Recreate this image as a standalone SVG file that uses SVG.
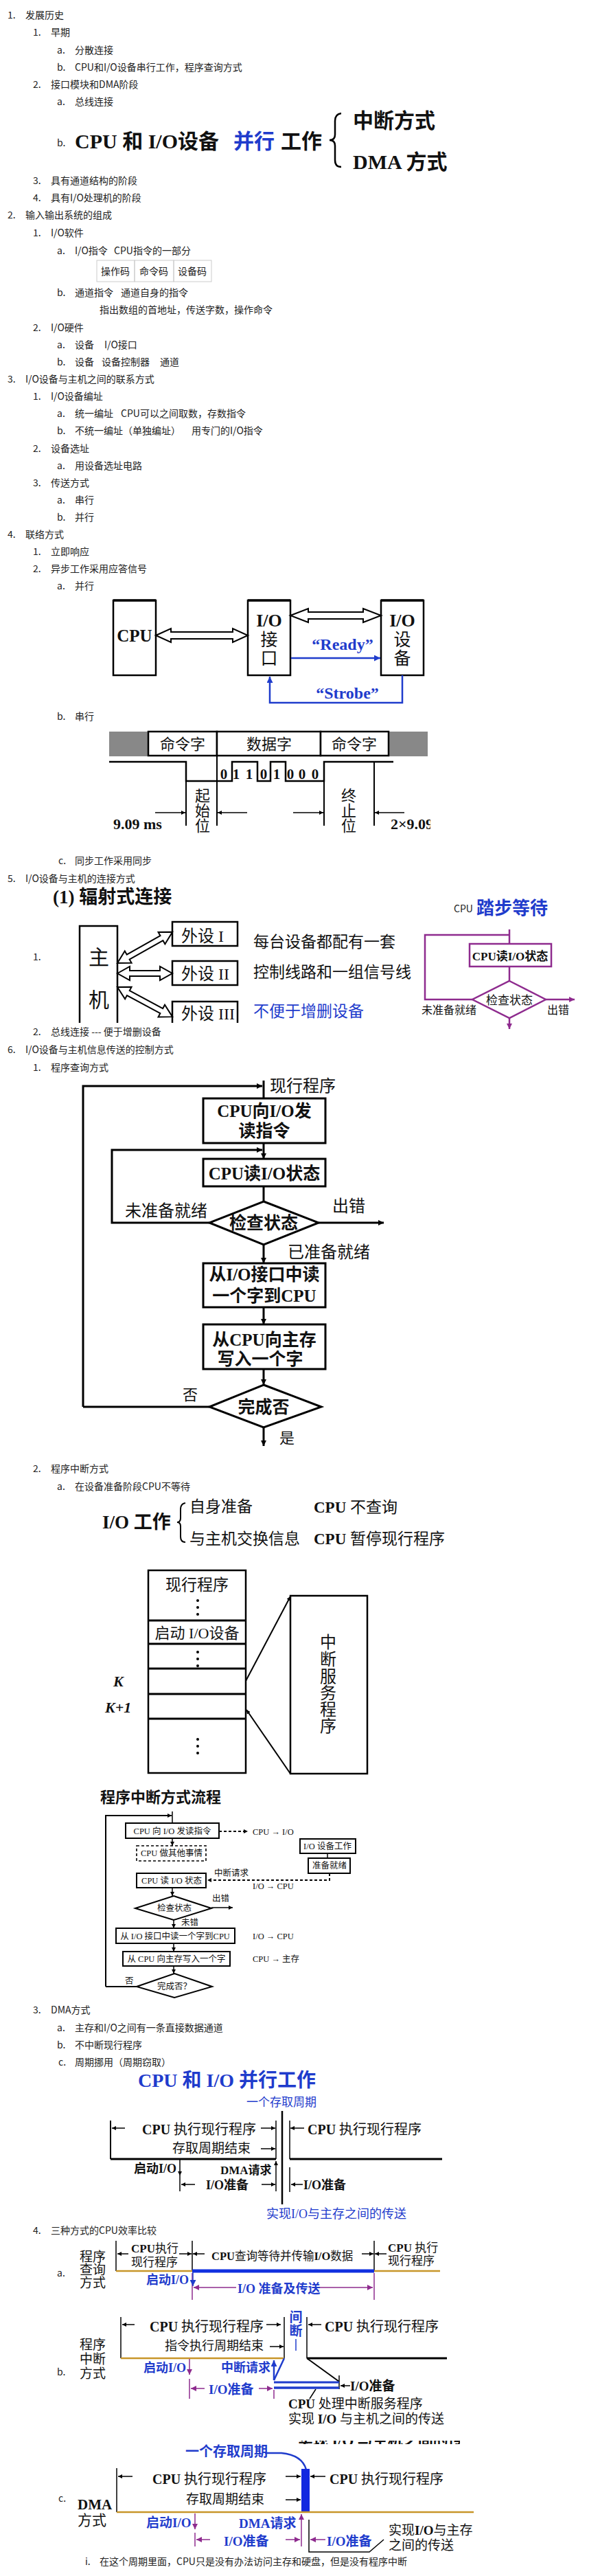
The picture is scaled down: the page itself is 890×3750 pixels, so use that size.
<svg xmlns="http://www.w3.org/2000/svg" width="890" height="3750" viewBox="0 0 890 3750">
<defs>
<style>
.L{font-family:"Noto Sans CJK SC","Noto Sans",sans-serif;font-size:14px;fill:#222}
.S{font-family:"Liberation Serif","Noto Sans CJK SC",serif;font-weight:bold;fill:#111}
.R{font-family:"Liberation Serif","Noto Sans CJK SC",serif;fill:#111}
.B{fill:#1f3ccc}
.m{text-anchor:middle}
.ln{fill:none;stroke:#000}
.bl{fill:none;stroke:#1f3ccc}
.pu{fill:none;stroke:#8e2b8e}
.go{fill:none;stroke:#c8962a}
.ho{fill:#fff;stroke:#000;stroke-width:2}
</style>
<marker id="ak" viewBox="0 0 10 10" refX="10" refY="5" markerWidth="8" markerHeight="8" markerUnits="userSpaceOnUse" orient="auto"><path d="M0,0 L10,5 L0,10 z" fill="#000"/></marker>
<marker id="as" viewBox="0 0 10 10" refX="10" refY="5" markerWidth="6" markerHeight="6" markerUnits="userSpaceOnUse" orient="auto"><path d="M0,0 L10,5 L0,10 z" fill="#000"/></marker>
<marker id="ab" viewBox="0 0 10 10" refX="10" refY="5" markerWidth="9" markerHeight="9" markerUnits="userSpaceOnUse" orient="auto"><path d="M0,0 L10,5 L0,10 z" fill="#1f3ccc"/></marker>
<marker id="ap" viewBox="0 0 10 10" refX="10" refY="5" markerWidth="8" markerHeight="8" markerUnits="userSpaceOnUse" orient="auto"><path d="M0,0 L10,5 L0,10 z" fill="#8e2b8e"/></marker>
<clipPath id="c2"><rect x="560" y="1185" width="67" height="30"/></clipPath>
<clipPath id="c3"><rect x="430" y="3553" width="240" height="5"/></clipPath>
</defs>
<rect width="890" height="3750" fill="#fff"/>

<g id="list">
<text class="L" x="11" y="27">1.</text><text class="L" x="37" y="27">发展历史</text>
<text class="L" x="48" y="52">1.</text><text class="L" x="74" y="52">早期</text>
<text class="L" x="83" y="78">a.</text><text class="L" x="109" y="78">分散连接</text>
<text class="L" x="83" y="103">b.</text><text class="L" x="109" y="103">CPU和I/O设备串行工作，程序查询方式</text>
<text class="L" x="48" y="128">2.</text><text class="L" x="74" y="128">接口模块和DMA阶段</text>
<text class="L" x="83" y="153">a.</text><text class="L" x="109" y="153">总线连接</text>
<text class="L" x="83" y="213">b.</text>
<text class="L" x="48" y="268">3.</text><text class="L" x="74" y="268">具有通道结构的阶段</text>
<text class="L" x="48" y="293">4.</text><text class="L" x="74" y="293">具有I/O处理机的阶段</text>
<text class="L" x="11" y="318">2.</text><text class="L" x="37" y="318">输入输出系统的组成</text>
<text class="L" x="48" y="344">1.</text><text class="L" x="74" y="344">I/O软件</text>
<text class="L" x="83" y="370">a.</text><text class="L" y="370"><tspan x="109">I/O指令</tspan><tspan x="166">CPU指令的一部分</tspan></text>
<text class="L" x="83" y="431">b.</text><text class="L" y="431"><tspan x="109">通道指令</tspan><tspan x="176">通道自身的指令</tspan></text>
<text class="L" x="145" y="456">指出数组的首地址，传送字数，操作命令</text>
<text class="L" x="48" y="482">2.</text><text class="L" x="74" y="482">I/O硬件</text>
<text class="L" x="83" y="507">a.</text><text class="L" y="507"><tspan x="109">设备</tspan><tspan x="152">I/O接口</tspan></text>
<text class="L" x="83" y="532">b.</text><text class="L" y="532"><tspan x="109">设备</tspan><tspan x="148">设备控制器</tspan><tspan x="233">通道</tspan></text>
<text class="L" x="11" y="557">3.</text><text class="L" x="37" y="557">I/O设备与主机之间的联系方式</text>
<text class="L" x="48" y="582">1.</text><text class="L" x="74" y="582">I/O设备编址</text>
<text class="L" x="83" y="607">a.</text><text class="L" y="607"><tspan x="109">统一编址</tspan><tspan x="176">CPU可以之间取数，存数指令</tspan></text>
<text class="L" x="83" y="632">b.</text><text class="L" y="632"><tspan x="109">不统一编址（单独编址）</tspan><tspan x="279">用专门的I/O指令</tspan></text>
<text class="L" x="48" y="658">2.</text><text class="L" x="74" y="658">设备选址</text>
<text class="L" x="83" y="683">a.</text><text class="L" x="109" y="683">用设备选址电路</text>
<text class="L" x="48" y="708">3.</text><text class="L" x="74" y="708">传送方式</text>
<text class="L" x="83" y="733">a.</text><text class="L" x="109" y="733">串行</text>
<text class="L" x="83" y="758">b.</text><text class="L" x="109" y="758">并行</text>
<text class="L" x="11" y="783">4.</text><text class="L" x="37" y="783">联络方式</text>
<text class="L" x="48" y="808">1.</text><text class="L" x="74" y="808">立即响应</text>
<text class="L" x="48" y="833">2.</text><text class="L" x="74" y="833">异步工作采用应答信号</text>
<text class="L" x="83" y="858">a.</text><text class="L" x="109" y="858">并行</text>
<text class="L" x="83" y="1048">b.</text><text class="L" x="109" y="1048">串行</text>
<text class="L" x="85" y="1258">c.</text><text class="L" x="109" y="1258">同步工作采用同步</text>
<text class="L" x="11" y="1284">5.</text><text class="L" x="37" y="1284">I/O设备与主机的连接方式</text>
<text class="L" x="48" y="1398">1.</text>
<text class="L" x="48" y="1507">2.</text><text class="L" x="74" y="1507">总线连接 --- 便于增删设备</text>
<text class="L" x="11" y="1533">6.</text><text class="L" x="37" y="1533">I/O设备与主机信息传送的控制方式</text>
<text class="L" x="48" y="1559">1.</text><text class="L" x="74" y="1559">程序查询方式</text>
<text class="L" x="48" y="2143">2.</text><text class="L" x="74" y="2143">程序中断方式</text>
<text class="L" x="83" y="2169">a.</text><text class="L" x="109" y="2169">在设备准备阶段CPU不等待</text>
<text class="L" x="48" y="2931">3.</text><text class="L" x="74" y="2931">DMA方式</text>
<text class="L" x="83" y="2957">a.</text><text class="L" x="109" y="2957">主存和I/O之间有一条直接数据通道</text>
<text class="L" x="83" y="2982">b.</text><text class="L" x="109" y="2982">不中断现行程序</text>
<text class="L" x="85" y="3007">c.</text><text class="L" x="109" y="3007">周期挪用（周期窃取）</text>
<text class="L" x="48" y="3252">4.</text><text class="L" x="74" y="3252">三种方式的CPU效率比较</text>
<text class="L" x="83" y="3314">a.</text>
<text class="L" x="83" y="3458">b.</text>
<text class="L" x="85" y="3642">c.</text>
<text class="L" x="124" y="3734">i.</text><text class="L" x="145" y="3734">在这个周期里面，CPU只是没有办法访问主存和硬盘，但是没有程序中断</text>
</g>

<g id="diag-parallel-work">
<text class="S" x="109" y="216" font-size="30">CPU 和 I/O设备</text>
<text class="S B" x="340" y="216" font-size="30">并行</text>
<text class="S" x="409" y="216" font-size="30" fill="#333">工作</text>
<path class="ln" stroke-width="2.5" d="M497,165 Q488,166 488,176 L488,196 Q488,204 480,204 Q488,204 488,212 L488,233 Q488,243 497,243"/>
<text class="S" x="514" y="186" font-size="30">中断方式</text>
<text class="S" x="514" y="246" font-size="30">DMA 方式</text>
</g>

<g id="table-io-instr">
<rect x="141" y="379" width="55" height="31" fill="none" stroke="#ccc"/>
<rect x="196" y="379" width="57" height="31" fill="none" stroke="#ccc"/>
<rect x="253" y="379" width="55" height="31" fill="none" stroke="#ccc"/>
<text class="L m" x="168" y="400">操作码</text>
<text class="L m" x="224" y="400">命令码</text>
<text class="L m" x="280" y="400">设备码</text>
</g>

<g id="diag-handshake">
<g id="hs-cpu"><rect x="165" y="874" width="62" height="109" class="ln" stroke-width="2.5"/><line x1="165" y1="874" x2="227" y2="874" stroke="#000" stroke-width="3.5"/><text class="S m" x="196" y="934" font-size="25">CPU</text></g>
<g id="hs-if"><rect x="361" y="874" width="62" height="109" class="ln" stroke-width="2.5"/><line x1="361" y1="874" x2="423" y2="874" stroke="#000" stroke-width="3.5"/><text class="S m" x="392" y="912" font-size="26">I/O</text><text class="R m" x="392" y="940" font-size="25">接</text><text class="R m" x="392" y="967" font-size="25">口</text></g>
<g id="hs-dev"><rect x="555" y="874" width="62" height="109" class="ln" stroke-width="2.5"/><line x1="555" y1="874" x2="617" y2="874" stroke="#000" stroke-width="3.5"/><text class="S m" x="586" y="912" font-size="26">I/O</text><text class="R m" x="586" y="940" font-size="25">设</text><text class="R m" x="586" y="967" font-size="25">备</text></g>
<g id="hs-connectors">
<polygon class="ho" transform="translate(227,925)" points="0,0 22,-10 22,-5 112,-5 112,-10 134,0 112,10 112,5 22,5 22,10"/>
<polygon class="ho" transform="translate(423,896)" points="0,0 26,-10 26,-5 106,-5 106,-10 132,0 106,10 106,5 26,5 26,10"/>
<line class="bl" stroke-width="2.5" x1="424" y1="958" x2="554" y2="958" marker-end="url(#ab)"/>
<polyline class="bl" stroke-width="2.5" points="586,983 586,1023 393,1023 393,985" marker-end="url(#ab)"/>
<text class="S B m" x="499" y="946" font-size="24">“Ready”</text>
<text class="S B m" x="506" y="1017" font-size="24">“Strobe”</text>
</g>
</g>

<g id="diag-serial">
<rect x="159" y="1065" width="464" height="36" fill="#888"/>
<g id="sr-cmd1"><rect x="216" y="1065" width="100" height="35" fill="#fff" stroke="#000" stroke-width="2.5"/><text class="R m" x="266" y="1091" font-size="22">命令字</text></g>
<g id="sr-data"><rect x="316" y="1065" width="151" height="35" fill="#fff" stroke="#000" stroke-width="2.5"/><text class="R m" x="392" y="1091" font-size="22">数据字</text></g>
<g id="sr-cmd2"><rect x="467" y="1065" width="99" height="35" fill="#fff" stroke="#000" stroke-width="2.5"/><text class="R m" x="516" y="1091" font-size="22">命令字</text></g>
<g id="sr-wave">
<polyline class="ln" stroke-width="2.5" points="159,1109 271,1109 271,1137 338,1137 338,1109 375,1109 375,1137 394,1137 394,1109 416,1109 416,1137 472,1137 472,1109 573,1109"/>
<line class="ln" stroke-width="2" x1="271" y1="1109" x2="271" y2="1202"/>
<line class="ln" stroke-width="2" x1="316" y1="1100" x2="316" y2="1202"/>
<line class="ln" stroke-width="2" x1="472" y1="1109" x2="472" y2="1202"/>
<line class="ln" stroke-width="2" x1="545" y1="1109" x2="545" y2="1202"/>
<g class="S m" font-size="21"><text x="326" y="1134">0</text><text x="344" y="1134">1</text><text x="363" y="1134">1</text><text x="384" y="1134">0</text><text x="403" y="1134">1</text><text x="423" y="1134">0</text><text x="440" y="1134">0</text><text x="459" y="1134">0</text></g>
<g class="R m" font-size="22"><text x="295" y="1166">起</text><text x="295" y="1188">始</text><text x="295" y="1210">位</text><text x="508" y="1166">终</text><text x="508" y="1188">止</text><text x="508" y="1210">位</text></g>
<line class="ln" stroke-width="1.5" x1="226" y1="1183" x2="270" y2="1183" marker-end="url(#as)"/>
<line class="ln" stroke-width="1.5" x1="360" y1="1183" x2="317" y2="1183" marker-end="url(#as)"/>
<line class="ln" stroke-width="1.5" x1="427" y1="1183" x2="471" y2="1183" marker-end="url(#as)"/>
<line class="ln" stroke-width="1.5" x1="589" y1="1183" x2="546" y2="1183" marker-end="url(#as)"/>
<text class="S" x="165" y="1207" font-size="22">9.09 ms</text>
<text class="S" x="569" y="1207" font-size="22" clip-path="url(#c2)">2×9.09 ms</text>
</g>
</g>

<g id="diag-radial">
<text class="S" x="77" y="1315" font-size="27">(1) 辐射式连接</text>
<g id="rd-host"><path class="ln" stroke-width="2.5" d="M116,1489 L116,1348 L171,1348 L171,1489"/><text class="R m" x="144" y="1404" font-size="30">主</text><text class="R m" x="144" y="1466" font-size="30">机</text></g>
<g id="rd-dev1"><rect x="251" y="1342" width="95" height="35" class="ln" stroke-width="2.5"/><text class="R" x="264" y="1371" font-size="24">外设 <tspan font-family="Liberation Serif">I</tspan></text></g>
<g id="rd-dev2"><rect x="251" y="1399" width="95" height="35" class="ln" stroke-width="2.5"/><text class="R" x="264" y="1426" font-size="24">外设 <tspan font-family="Liberation Serif">II</tspan></text></g>
<g id="rd-dev3"><path class="ln" stroke-width="2.5" d="M251,1489 L251,1458 L346,1458 L346,1489"/><text class="R" x="264" y="1484" font-size="24">外设 <tspan font-family="Liberation Serif">III</tspan></text></g>
<g id="rd-connectors">
<polygon class="ho" transform="translate(171,1402) rotate(-29.4)" points="0,0 18,-10 18,-4 74,-4 74,-10 92,0 74,10 74,4 18,4 18,10"/>
<polygon class="ho" transform="translate(171,1417)" points="0,0 18,-10 18,-4 62,-4 62,-10 80,0 62,10 62,4 18,4 18,10"/>
<polygon class="ho" transform="translate(171,1437) rotate(28.3)" points="0,0 18,-10 18,-4 73,-4 73,-10 91,0 73,10 73,4 18,4 18,10"/>
</g>
<text class="R" x="369" y="1379" font-size="23">每台设备都配有一套</text>
<text class="R" x="369" y="1423" font-size="23">控制线路和一组信号线</text>
<text class="R B" x="369" y="1480" font-size="23">不便于增删设备</text>
</g>

<g id="diag-polling">
<text class="L" x="661" y="1328" font-size="15">CPU</text>
<text class="S B" x="694" y="1331" font-size="26">踏步等待</text>
<g id="pl-box"><rect x="684" y="1374" width="119" height="33" class="pu" stroke-width="2.5"/><text class="S m" x="743" y="1398" font-size="17">CPU读I/O状态</text></g>
<g id="pl-check"><polygon class="pu" stroke-width="2.5" points="742,1428 795,1455 742,1482 688,1455"/><text class="R m" x="742" y="1462" font-size="17">检查状态</text></g>
<g id="pl-connectors">
<line class="pu" stroke-width="2.5" x1="742" y1="1353" x2="742" y2="1374"/>
<polyline class="pu" stroke-width="2.5" points="688,1455 619,1455 619,1361 741,1361"/>
<line class="pu" stroke-width="2.5" x1="742" y1="1407" x2="742" y2="1428"/>
<line class="pu" stroke-width="2.5" x1="795" y1="1455" x2="837" y2="1455" marker-end="url(#ap)"/>
<line class="pu" stroke-width="2.5" x1="742" y1="1482" x2="742" y2="1498" marker-end="url(#ap)"/>
</g>
<text class="R" x="614" y="1476" font-size="16">未准备就绪</text>
<text class="R" x="797" y="1476" font-size="16">出错</text>
</g>

<g id="flow-query">
<text class="R" x="393" y="1589" font-size="24">现行程序</text>
<g id="fq-n1"><rect x="296" y="1599" width="178" height="65" class="ln" stroke-width="3"/><text class="S m" x="385" y="1626" font-size="25">CPU向I/O发</text><text class="S m" x="385" y="1655" font-size="25">读指令</text></g>
<g id="fq-n2"><rect x="296" y="1687" width="178" height="40" class="ln" stroke-width="3"/><text class="S m" x="385" y="1717" font-size="25">CPU读I/O状态</text></g>
<g id="fq-d1"><polygon class="ln" stroke-width="3" points="384,1749 464,1780 384,1812 305,1780"/><text class="S m" x="384" y="1789" font-size="25">检查状态</text></g>
<g id="fq-n3"><rect x="296" y="1839" width="178" height="64" class="ln" stroke-width="3"/><text class="S m" x="385" y="1864" font-size="25">从I/O接口中读</text><text class="S m" x="385" y="1895" font-size="25">一个字到CPU</text></g>
<g id="fq-n4"><rect x="296" y="1928" width="178" height="65" class="ln" stroke-width="3"/><text class="S m" x="385" y="1959" font-size="25">从CPU向主存</text><text class="S m" x="379" y="1987" font-size="25">写入一个字</text></g>
<g id="fq-d2"><polygon class="ln" stroke-width="3" points="384,2016 468,2048 384,2078 305,2048"/><text class="S m" x="384" y="2057" font-size="25">完成否</text></g>
<g id="fq-connectors">
<line class="ln" stroke-width="3" x1="384" y1="1573" x2="384" y2="1599"/>
<polyline class="ln" stroke-width="3" points="121,2048 121,1581 382,1581" marker-end="url(#ak)"/>
<line class="ln" stroke-width="3" x1="384" y1="1664" x2="384" y2="1687" marker-end="url(#ak)"/>
<polyline class="ln" stroke-width="3" points="305,1780 163,1780 163,1674 382,1674" marker-end="url(#ak)"/>
<line class="ln" stroke-width="3" x1="384" y1="1727" x2="384" y2="1749"/>
<line class="ln" stroke-width="3" x1="464" y1="1780" x2="559" y2="1780" marker-end="url(#ak)"/>
<line class="ln" stroke-width="3" x1="384" y1="1812" x2="384" y2="1839" marker-end="url(#ak)"/>
<line class="ln" stroke-width="3" x1="384" y1="1903" x2="384" y2="1928" marker-end="url(#ak)"/>
<line class="ln" stroke-width="3" x1="384" y1="1993" x2="384" y2="2016" marker-end="url(#ak)"/>
<line class="ln" stroke-width="3" x1="305" y1="2048" x2="121" y2="2048"/>
<line class="ln" stroke-width="3" x1="384" y1="2078" x2="384" y2="2105" marker-end="url(#ak)"/>
</g>
<text class="R" x="182" y="1771" font-size="24">未准备就绪</text>
<text class="R" x="484" y="1764" font-size="24">出错</text>
<text class="R" x="419" y="1831" font-size="24">已准备就绪</text>
<text class="R" x="266" y="2038" font-size="22">否</text>
<text class="R" x="407" y="2101" font-size="22">是</text>
</g>

<g id="diag-io-work">
<text class="S" x="149" y="2225" font-size="27">I/O 工作</text>
<path class="ln" stroke-width="2" d="M270,2188 Q263,2189 263,2197 L263,2210 Q263,2216 258,2216 Q263,2216 263,2222 L263,2237 Q263,2245 270,2245"/>
<text class="R" x="276" y="2201" font-size="23">自身准备</text>
<text class="R" x="457" y="2202" font-size="23"><tspan font-weight="bold">CPU</tspan> 不查询</text>
<text class="R" x="276" y="2248" font-size="23">与主机交换信息</text>
<text class="R" x="457" y="2248" font-size="23"><tspan font-weight="bold">CPU</tspan> 暂停现行程序</text>
</g>

<g id="diag-interrupt-stack">
<g id="st-main">
<rect x="216" y="2286" width="142" height="295" class="ln" stroke-width="2.5"/>
<g stroke="#000" stroke-width="3"><line x1="216" y1="2359" x2="358" y2="2359"/><line x1="216" y1="2393" x2="358" y2="2393"/><line x1="216" y1="2429" x2="358" y2="2429"/><line x1="216" y1="2466" x2="358" y2="2466"/><line x1="216" y1="2502" x2="358" y2="2502"/></g>
<text class="R m" x="287" y="2315" font-size="23">现行程序</text>
<text class="R m" x="287" y="2385" font-size="22">启动 I/O设备</text>
<g fill="#000"><circle cx="288" cy="2330" r="2"/><circle cx="288" cy="2340" r="2"/><circle cx="288" cy="2350" r="2"/><circle cx="288" cy="2405" r="2"/><circle cx="288" cy="2415" r="2"/><circle cx="288" cy="2425" r="2"/><circle cx="288" cy="2532" r="2"/><circle cx="288" cy="2542" r="2"/><circle cx="288" cy="2552" r="2"/></g>
</g>
<text class="S" x="165" y="2455" font-size="22" font-style="italic">K</text>
<text class="S" x="153" y="2493" font-size="22" font-style="italic">K+1</text>
<g id="st-isr"><rect x="423" y="2323" width="112" height="259" class="ln" stroke-width="2.5"/>
<g class="R m" font-size="24"><text x="478" y="2399">中</text><text x="478" y="2424">断</text><text x="478" y="2449">服</text><text x="478" y="2473">务</text><text x="478" y="2497">程</text><text x="478" y="2521">序</text></g></g>
<g id="st-connectors">
<line class="ln" stroke-width="2" x1="358" y1="2447" x2="423" y2="2324" marker-end="url(#as)"/>
<line class="ln" stroke-width="2" x1="423" y1="2582" x2="359" y2="2489" marker-end="url(#as)"/>
</g>
</g>

<g id="flow-interrupt">
<text class="S" x="146" y="2624" font-size="22">程序中断方式流程</text>
<g class="R" font-size="12.5">
<g id="fi-n1"><rect x="183" y="2654" width="136" height="22" class="ln" stroke-width="2"/><text class="m" x="251" y="2670">CPU 向 I/O 发读指令</text></g>
<g id="fi-n2"><rect x="199" y="2687" width="101" height="22" class="ln" stroke-width="1.6" stroke-dasharray="4,3"/><text class="m" x="250" y="2702">CPU 做其他事情</text></g>
<g id="fi-n3"><rect x="437" y="2677" width="81" height="21" class="ln" stroke-width="2"/><text class="m" x="477" y="2692">I/O 设备工作</text></g>
<g id="fi-n4"><rect x="449" y="2705" width="61" height="22" class="ln" stroke-width="2"/><text class="m" x="480" y="2720">准备就绪</text></g>
<g id="fi-n5"><rect x="199" y="2727" width="101" height="21" class="ln" stroke-width="2"/><text class="m" x="250" y="2742">CPU 读 I/O 状态</text></g>
<g id="fi-d1"><polygon class="ln" stroke-width="2" points="253,2760 308,2778 253,2795 197,2778"/><text class="m" x="254" y="2782">检查状态</text></g>
<g id="fi-n6"><rect x="169" y="2807" width="173" height="22" class="ln" stroke-width="2"/><text class="m" x="255" y="2823">从 I/O 接口中读一个字到CPU</text></g>
<g id="fi-n7"><rect x="179" y="2841" width="156" height="21" class="ln" stroke-width="2"/><text class="m" x="257" y="2856">从 CPU 向主存写入一个字</text></g>
<g id="fi-d2"><polygon class="ln" stroke-width="2" points="254,2873 309,2892 254,2908 199,2892"/><text class="m" x="254" y="2896">完成否？</text></g>
<text x="368" y="2671">CPU → I/O</text>
<text x="312" y="2731">中断请求</text>
<text x="368" y="2750">I/O → CPU</text>
<text x="309" y="2768">出错</text>
<text x="264" y="2803">未错</text>
<text x="368" y="2823">I/O → CPU</text>
<text x="368" y="2856">CPU → 主存</text>
<text x="182" y="2888">否</text>
</g>
<g id="fi-connectors">
<line class="ln" stroke-width="1.5" x1="251" y1="2637" x2="251" y2="2654"/>
<polyline class="ln" stroke-width="2" points="154,2892 154,2643 250,2643" marker-end="url(#as)"/>
<line class="ln" stroke-width="2" stroke-dasharray="4,3" x1="319" y1="2666" x2="361" y2="2666" marker-end="url(#as)"/>
<line class="ln" stroke-width="1.5" x1="251" y1="2676" x2="251" y2="2687" marker-end="url(#as)"/>
<line class="ln" stroke-width="1.5" x1="477" y1="2698" x2="477" y2="2705"/>
<polyline class="ln" stroke-width="2" stroke-dasharray="4,3" points="480,2727 480,2737 302,2737" marker-end="url(#as)"/>
<line class="ln" stroke-width="1.5" x1="251" y1="2748" x2="251" y2="2760" marker-end="url(#as)"/>
<line class="ln" stroke-width="1.5" x1="308" y1="2777" x2="339" y2="2777" marker-end="url(#as)"/>
<line class="ln" stroke-width="1.5" x1="253" y1="2795" x2="253" y2="2807" marker-end="url(#as)"/>
<line class="ln" stroke-width="1.5" x1="253" y1="2829" x2="253" y2="2841" marker-end="url(#as)"/>
<line class="ln" stroke-width="1.5" x1="253" y1="2862" x2="253" y2="2873" marker-end="url(#as)"/>
<line class="ln" stroke-width="2" x1="199" y1="2892" x2="154" y2="2892"/>
</g>
</g>

<g id="diag-dma-cycle">
<text class="S B" x="201" y="3038" font-size="28">CPU 和 I/O 并行工作</text>
<text class="R B" x="359" y="3066" font-size="17">一个存取周期</text>
<g class="ln">
<line stroke-width="2.5" x1="411" y1="3073" x2="411" y2="3209"/>
<line stroke-width="2" x1="161" y1="3087" x2="161" y2="3143"/>
<line stroke-width="1.5" x1="402" y1="3087" x2="402" y2="3143"/>
<line stroke-width="1.5" x1="422" y1="3087" x2="422" y2="3143"/>
<line stroke-width="3" x1="161" y1="3143" x2="402" y2="3143"/>
<line stroke-width="3" x1="422" y1="3143" x2="644" y2="3143"/>
<line stroke-width="1.5" x1="182" y1="3098" x2="163" y2="3098" marker-end="url(#as)"/>
<line stroke-width="1.5" x1="380" y1="3098" x2="401" y2="3098" marker-end="url(#as)"/>
<line stroke-width="1.5" x1="443" y1="3098" x2="423" y2="3098" marker-end="url(#as)"/>
<line stroke-width="1.5" x1="380" y1="3128" x2="401" y2="3128" marker-end="url(#as)"/>
<line stroke-width="1.5" x1="262" y1="3143" x2="262" y2="3167" marker-end="url(#as)"/>
<line stroke-width="1.5" x1="262" y1="3167" x2="262" y2="3190"/>
<line stroke-width="1.5" x1="402" y1="3190" x2="402" y2="3146" marker-end="url(#as)"/>
<line stroke-width="1.5" x1="422" y1="3155" x2="422" y2="3191"/>
<line stroke-width="1.5" x1="284" y1="3180" x2="264" y2="3180" marker-end="url(#as)"/>
<line stroke-width="1.5" x1="381" y1="3180" x2="401" y2="3180" marker-end="url(#as)"/>
<line stroke-width="1.5" x1="441" y1="3180" x2="424" y2="3180" marker-end="url(#as)"/>
</g>
<g class="R" font-size="20">
<text x="207" y="3107"><tspan font-weight="bold">CPU</tspan> 执行现行程序</text>
<text x="448" y="3107"><tspan font-weight="bold">CPU</tspan> 执行现行程序</text>
<text x="251" y="3134" font-size="19">存取周期结束</text>
<text x="195" y="3163" font-size="18" font-weight="bold">启动I/O</text>
<text x="321" y="3165" font-size="17" font-weight="bold">DMA请求</text>
<text x="300" y="3187" font-size="18" font-weight="bold">I/O准备</text>
<text x="442" y="3187" font-size="18" font-weight="bold">I/O准备</text>
</g>
<text class="R B" x="388" y="3229" font-size="18">实现I/O与主存之间的传送</text>
</g>

<g id="cmp-a">
<g class="R" font-size="19"><text x="116" y="3292">程序</text><text x="116" y="3311">查询</text><text x="116" y="3330">方式</text></g>
<g class="ln" stroke-width="1.5">
<line x1="169" y1="3262" x2="169" y2="3306"/><line x1="280" y1="3262" x2="280" y2="3306"/><line x1="545" y1="3262" x2="545" y2="3306"/>
<line x1="187" y1="3281" x2="171" y2="3281" marker-end="url(#as)"/>
<line x1="261" y1="3281" x2="279" y2="3281" marker-end="url(#as)"/>
<line x1="298" y1="3281" x2="281" y2="3281" marker-end="url(#as)"/>
<line x1="527" y1="3281" x2="544" y2="3281" marker-end="url(#as)"/>
<line x1="563" y1="3281" x2="546" y2="3281" marker-end="url(#as)"/>
</g>
<g class="R" font-size="17"><text x="191" y="3279"><tspan font-weight="bold">CPU</tspan>执行</text><text x="191" y="3299">现行程序</text>
<text x="308" y="3290" font-size="16.5"><tspan font-weight="bold">CPU</tspan>查询等待并传输<tspan font-weight="bold">I/O</tspan>数据</text>
<text x="565" y="3278"><tspan font-weight="bold">CPU</tspan> 执行</text><text x="565" y="3297">现行程序</text></g>
<line class="go" stroke-width="2.5" x1="169" y1="3306" x2="280" y2="3306"/>
<line class="go" stroke-width="2.5" x1="545" y1="3306" x2="641" y2="3306"/>
<line stroke="#1030e0" stroke-width="5" x1="280" y1="3306" x2="545" y2="3306"/>
<line class="pu" stroke-width="1.5" x1="280" y1="3309" x2="280" y2="3348"/>
<line class="pu" stroke-width="1.5" x1="545" y1="3309" x2="545" y2="3348"/>
<line class="bl" stroke-width="1.5" x1="281" y1="3308" x2="281" y2="3328" marker-end="url(#ab)"/>
<line class="pu" stroke-width="1.5" x1="344" y1="3330" x2="282" y2="3330" marker-end="url(#ap)"/>
<line class="pu" stroke-width="1.5" x1="456" y1="3330" x2="543" y2="3330" marker-end="url(#ap)"/>
<text class="S B" x="213" y="3325" font-size="18">启动I/O</text>
<text class="S B" x="346" y="3338" font-size="18">I/O 准备及传送</text>
</g>

<g id="cmp-b">
<g class="R" font-size="19"><text x="116" y="3420">程序</text><text x="116" y="3441">中断</text><text x="116" y="3462">方式</text></g>
<g class="ln" stroke-width="1.5">
<line x1="176" y1="3373" x2="176" y2="3433"/><line x1="414" y1="3373" x2="414" y2="3433"/><line x1="447" y1="3373" x2="447" y2="3433"/>
<line x1="196" y1="3384" x2="178" y2="3384" marker-end="url(#as)"/>
<line x1="388" y1="3384" x2="409" y2="3384" marker-end="url(#as)"/>
<line x1="468" y1="3384" x2="449" y2="3384" marker-end="url(#as)"/>
<line x1="393" y1="3416" x2="413" y2="3416" marker-end="url(#as)"/>
<line x1="447" y1="3433" x2="494" y2="3467" stroke-width="2"/>
<line x1="494" y1="3458" x2="494" y2="3478"/>
<line x1="510" y1="3473" x2="496" y2="3473" marker-end="url(#as)"/>
<line x1="460" y1="3478" x2="451" y2="3492"/>
</g>
<g class="S B m" font-size="19"><text x="431" y="3380">间</text><text x="431" y="3400">断</text></g>
<line class="bl" stroke-width="1.5" x1="431" y1="3405" x2="431" y2="3422"/>
<g class="R" font-size="20">
<text x="218" y="3394"><tspan font-weight="bold">CPU</tspan> 执行现行程序</text>
<text x="473" y="3394"><tspan font-weight="bold">CPU</tspan> 执行现行程序</text>
<text x="240" y="3421" font-size="18">指令执行周期结束</text>
<text x="510" y="3480" font-size="19" font-weight="bold">I/O准备</text>
<text x="420" y="3506" font-size="19"><tspan font-weight="bold">CPU</tspan> 处理中断服务程序</text>
<text x="420" y="3528" font-size="19">实现 <tspan font-weight="bold">I/O</tspan> 与主机之间的传送</text>
</g>
<line class="go" stroke-width="2.5" x1="176" y1="3433" x2="414" y2="3433"/>
<line class="ln" stroke-width="3" x1="447" y1="3433" x2="651" y2="3433"/>
<line class="bl" stroke-width="2.5" x1="399" y1="3465" x2="399" y2="3436" marker-end="url(#ab)"/>
<line class="bl" stroke-width="2.5" x1="414" y1="3433" x2="399" y2="3465"/>
<line class="bl" stroke-width="3" x1="399" y1="3468" x2="494" y2="3468"/>
<line class="bl" stroke-width="3.5" x1="399" y1="3476" x2="494" y2="3476"/>
<line class="pu" stroke-width="1.5" x1="276" y1="3434" x2="276" y2="3457" marker-end="url(#ap)"/>
<line class="pu" stroke-width="1.5" x1="276" y1="3463" x2="276" y2="3492"/>
<line class="pu" stroke-width="1.5" x1="399" y1="3479" x2="399" y2="3492"/>
<line class="pu" stroke-width="1.5" x1="298" y1="3477" x2="278" y2="3477" marker-end="url(#ap)"/>
<line class="pu" stroke-width="1.5" x1="377" y1="3477" x2="397" y2="3477" marker-end="url(#ap)"/>
<text class="S B" x="209" y="3453" font-size="18">启动I/O</text>
<text class="S B" x="322" y="3453" font-size="18">中断请求</text>
<text class="S B" x="304" y="3485" font-size="19">I/O准备</text>
</g>

<g id="cmp-c">
<text class="S" x="434" y="3560" font-size="22" clip-path="url(#c3)">实现 I/O 与主机之间的传送</text>
<text class="S B" x="270" y="3576" font-size="20">一个存取周期</text>
<path class="bl" stroke-width="2.5" d="M386,3571 L410,3571 Q440,3574 446,3595"/>
<rect x="439" y="3594" width="12" height="64" fill="#1228e0"/>
<g class="ln" stroke-width="1.5">
<line x1="170" y1="3593" x2="170" y2="3657"/>
<line x1="193" y1="3605" x2="172" y2="3605" marker-end="url(#as)"/>
<line x1="416" y1="3605" x2="438" y2="3605" marker-end="url(#as)"/>
<line x1="474" y1="3605" x2="452" y2="3605" marker-end="url(#as)"/>
<line x1="416" y1="3639" x2="438" y2="3639" marker-end="url(#as)"/>
<polyline stroke-width="1.5" points="450,3668 450,3715 538,3715 559,3697"/>
</g>
<g class="R" font-size="20">
<text x="222" y="3616"><tspan font-weight="bold">CPU</tspan> 执行现行程序</text>
<text x="480" y="3616"><tspan font-weight="bold">CPU</tspan> 执行现行程序</text>
<text x="271" y="3645" font-size="19">存取周期结束</text>
<text x="566" y="3690" font-size="19">实现<tspan font-weight="bold">I/O</tspan>与主存</text>
<text x="566" y="3712" font-size="19">之间的传送</text>
</g>
<text class="S" x="113" y="3653" font-size="21">DMA</text>
<text class="R" x="113" y="3676" font-size="21">方式</text>
<line class="go" stroke-width="2.5" x1="170" y1="3657" x2="690" y2="3657"/>
<line class="pu" stroke-width="1.5" x1="284" y1="3659" x2="284" y2="3682" marker-end="url(#ap)"/>
<line class="pu" stroke-width="1.5" x1="284" y1="3687" x2="284" y2="3707"/>
<line class="pu" stroke-width="1.5" x1="439" y1="3700" x2="439" y2="3660" marker-end="url(#ap)"/>
<line class="pu" stroke-width="1.5" x1="439" y1="3700" x2="439" y2="3707"/>
<line class="pu" stroke-width="1.5" x1="306" y1="3697" x2="286" y2="3697" marker-end="url(#ap)"/>
<line class="pu" stroke-width="1.5" x1="416" y1="3697" x2="437" y2="3697" marker-end="url(#ap)"/>
<line class="pu" stroke-width="1.5" x1="474" y1="3697" x2="452" y2="3697" marker-end="url(#ap)"/>
<text class="S B" x="213" y="3679" font-size="19">启动I/O</text>
<text class="S B" x="348" y="3680" font-size="19">DMA请求</text>
<text class="S B" x="326" y="3706" font-size="19">I/O准备</text>
<text class="S B" x="476" y="3706" font-size="19">I/O准备</text>
</g>
</svg>
